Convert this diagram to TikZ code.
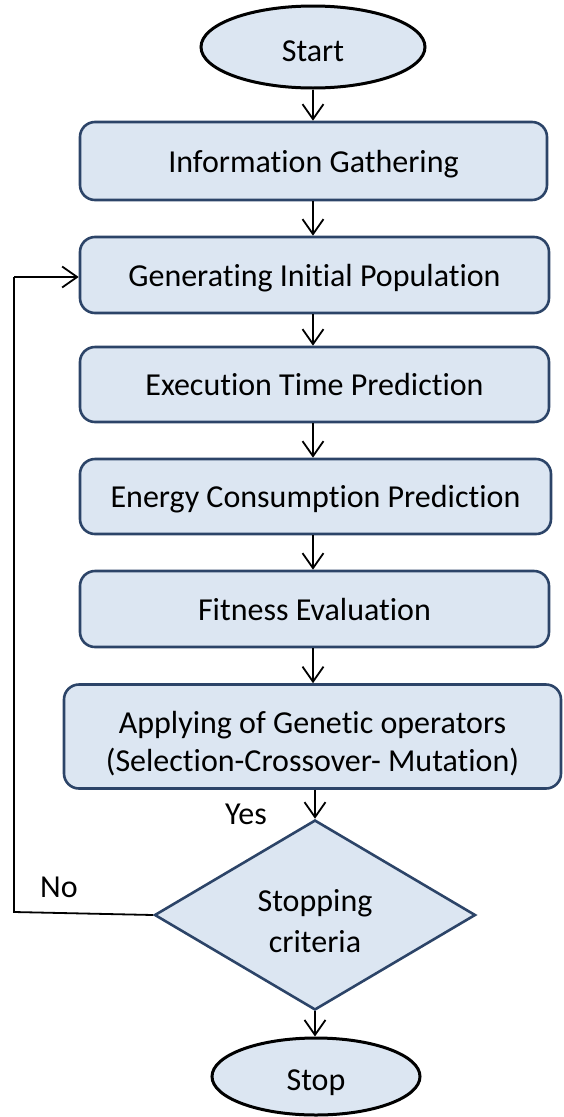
\documentclass[tikz,border=0pt]{standalone}
\usepackage{fontspec}
\setmainfont{Carlito}[Ligatures={NoCommon}]
\usetikzlibrary{shapes.geometric,arrows.meta}
\definecolor{boxfill}{RGB}{220,230,242}
\definecolor{boxline}{RGB}{44,68,104}
\tikzset{
  txt/.style={font=\fontsize{32}{39}\selectfont},
  oneline/.style={text height=29pt, text depth=7pt},
  procbox/.style={txt, draw=boxline, line width=2.6pt, fill=boxfill, rounded corners=15pt, inner sep=0pt, align=center},
  term/.style={txt, text height=34pt, text depth=6pt, ellipse, draw=black, line width=3pt, fill=boxfill, inner sep=0pt},
  decision/.style={txt, diamond, draw=boxline, line width=2.6pt, fill=boxfill, inner sep=0pt, align=center},
  conn/.style={draw=black, line width=1.8pt, -{Straight Barb[length=15pt,width=21pt,line width=1.8pt]}},
  plain/.style={draw=black, line width=1.8pt}
}
\begin{document}
\begin{tikzpicture}[x=1pt,y=-1pt]
\useasboundingbox (0,0) rectangle (563,1117);
\node[term, minimum width=224pt, minimum height=82pt] (start) at (313,47) {Start};
\node[procbox, oneline, minimum width=467pt, minimum height=78pt] (b1) at (313.5,161) {Information Gathering};
\node[procbox, oneline, minimum width=469pt, minimum height=76pt] (b2) at (314.5,275) {Generating Initial Population};
\node[procbox, oneline, minimum width=469pt, minimum height=75pt] (b3) at (314.5,384.5) {Execution Time Prediction};
\node[procbox, oneline, minimum width=471pt, minimum height=75pt] (b4) at (315.5,496.5) {Energy Consumption Prediction};
\node[procbox, oneline, minimum width=469pt, minimum height=76pt] (b5) at (314.5,609) {Fitness Evaluation};
\node[procbox, minimum width=497pt, minimum height=104pt] (b6) at (312.5,736.5) {};
\node[txt, align=center, inner sep=0pt] (b6t) at (312.5,744) {Applying of Genetic operators\\[-1pt](Selection-Crossover- Mutation)};
\node[decision, minimum width=321pt, minimum height=190pt] (dec) at (315,915) {};
\node[txt, align=center, inner sep=0pt] (dect) at (315,921) {Stopping\\[2pt]criteria};
\node[term, minimum width=208pt, minimum height=77pt] (stop) at (316,1076.5) {Stop};
\node[txt] (yes) at (246,814) {Yes};
\node[txt] (no) at (59,887) {No};
\coordinate (fb1) at (14,912);
\coordinate (fb2) at (14,277);
\draw[conn] (start.south) -- (start.south |- b1.north);
\draw[conn] (start.south |- b1.south) -- (start.south |- b2.north);
\draw[conn] (start.south |- b2.south) -- (start.south |- b3.north);
\draw[conn] (start.south |- b3.south) -- (start.south |- b4.north);
\draw[conn] (start.south |- b4.south) -- (start.south |- b5.north);
\draw[conn] (start.south |- b5.south) -- (start.south |- b6.north);
\draw[conn] (dec.north |- b6.south) -- (dec.north);
\draw[conn] (dec.south) -- (dec.south |- stop.north);
\draw[plain] (dec.west) -- (fb1) -- (fb2);
\draw[conn] (fb2) -- (fb2 -| b2.west);
\end{tikzpicture}
\end{document}
